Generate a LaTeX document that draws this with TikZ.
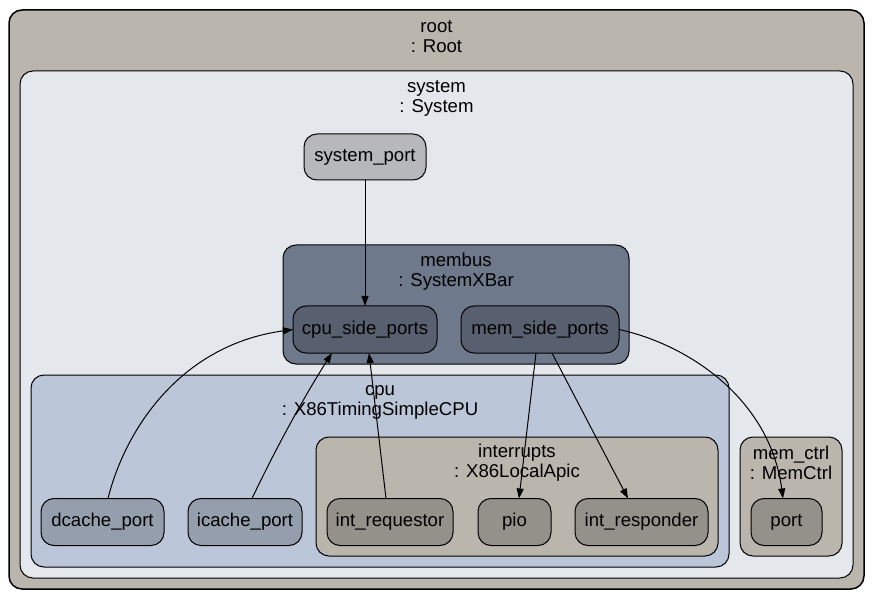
\documentclass[tikz,border=0pt]{standalone}
\usepackage{fontspec}
\setmainfont{Liberation Sans}
\usetikzlibrary{arrows.meta}
\definecolor{rootfill}{HTML}{BAB5AD}
\definecolor{sysfill}{HTML}{E4E7EB}
\definecolor{sysport}{HTML}{B6B8BC}
\definecolor{busfill}{HTML}{6F798C}
\definecolor{busport}{HTML}{586070}
\definecolor{cpufill}{HTML}{BBC6D9}
\definecolor{cpuport}{HTML}{959EAD}
\definecolor{apicport}{HTML}{94918B}
\tikzset{
  every node/.style={font=\fontsize{18.6}{20}\selectfont, inner sep=0pt, outer sep=0pt},
  box/.style={draw=black, line width=1pt, rounded corners=13pt},
  portbox/.style={box, minimum height=47pt},
  lbl/.style={align=center},
  edge/.style={line width=1pt, -{Triangle[length=10pt,width=7pt]}}
}
\begin{document}
\begin{tikzpicture}[x=1pt,y=1pt]
\useasboundingbox (0,0) rectangle (881,598);
% containers
\node[box, line width=1.5pt, fill=rootfill, minimum width=855pt, minimum height=579pt] (root) at (436.5,298.5) {};
\node[lbl] (rootlbl) at (436.5,561.5) {root\\: Root};
\node[box, fill=sysfill, minimum width=833pt, minimum height=507pt] (system) at (436.5,273.5) {};
\node[lbl] (syslbl) at (436.5,499.5) {system\\: System};
\node[portbox, fill=sysport, minimum width=122pt, minimum height=46pt] (sysport) at (365,441) {system\_port};
\node[box, fill=busfill, minimum width=346pt, minimum height=119pt] (membus) at (456,293.5) {};
\node[lbl] (buslbl) at (456,326) {membus\\: SystemXBar};
\node[portbox, fill=busport, minimum width=144pt] (cpuside) at (365,268.5) {cpu\_side\_ports};
\node[portbox, fill=busport, minimum width=158pt] (memside) at (540,268.5) {mem\_side\_ports};
\node[box, fill=cpufill, minimum width=698pt, minimum height=192pt] (cpu) at (380,127) {};
\node[lbl] (cpulbl) at (380,196) {cpu\\: X86TimingSimpleCPU};
\node[box, fill=rootfill, minimum width=402pt, minimum height=119pt] (intr) at (517,101.5) {};
\node[lbl] (intrlbl) at (517,135) {interrupts\\: X86LocalApic};
\node[box, fill=rootfill, minimum width=102pt, minimum height=119pt] (memctrl) at (791,101.5) {};
\node[lbl] (memctrllbl) at (791,135) {mem\_ctrl\\: MemCtrl};
% ports
\node[portbox, fill=cpuport, minimum width=123pt] (dcache) at (102.5,76) {dcache\_port};
\node[portbox, fill=cpuport, minimum width=114pt] (icache) at (245,76) {icache\_port};
\node[portbox, fill=apicport, minimum width=126pt] (intreq) at (390,76) {int\_requestor};
\node[portbox, fill=apicport, minimum width=73pt] (pio) at (514.5,76) {pio};
\node[portbox, fill=apicport, minimum width=133pt] (intresp) at (641.5,76) {int\_responder};
\node[portbox, fill=apicport, minimum width=71pt] (port) at (786.5,76) {port};
% edges
\draw[edge] (sysport.south) -- (cpuside.north);
\draw[edge] (dcache.north -| 108,0) .. controls (125,168) and (180,253) .. (cpuside.west);
\draw[edge] (icache.north -| 252,0) .. controls (275,148) and (305,203) .. (cpuside.south -| 332,0);
\draw[edge] (intreq.north -| 386,0) -- (cpuside.south -| 369,0);
\draw[edge] (memside.south -| 536,0) -- (pio.north -| 519,0);
\draw[edge] (memside.south -| 552,0) -- (intresp.north -| 628,0);
\draw[edge] (memside.east) .. controls (690,253) and (770,198) .. (port.north -| 783,0);
\end{tikzpicture}
\end{document}
